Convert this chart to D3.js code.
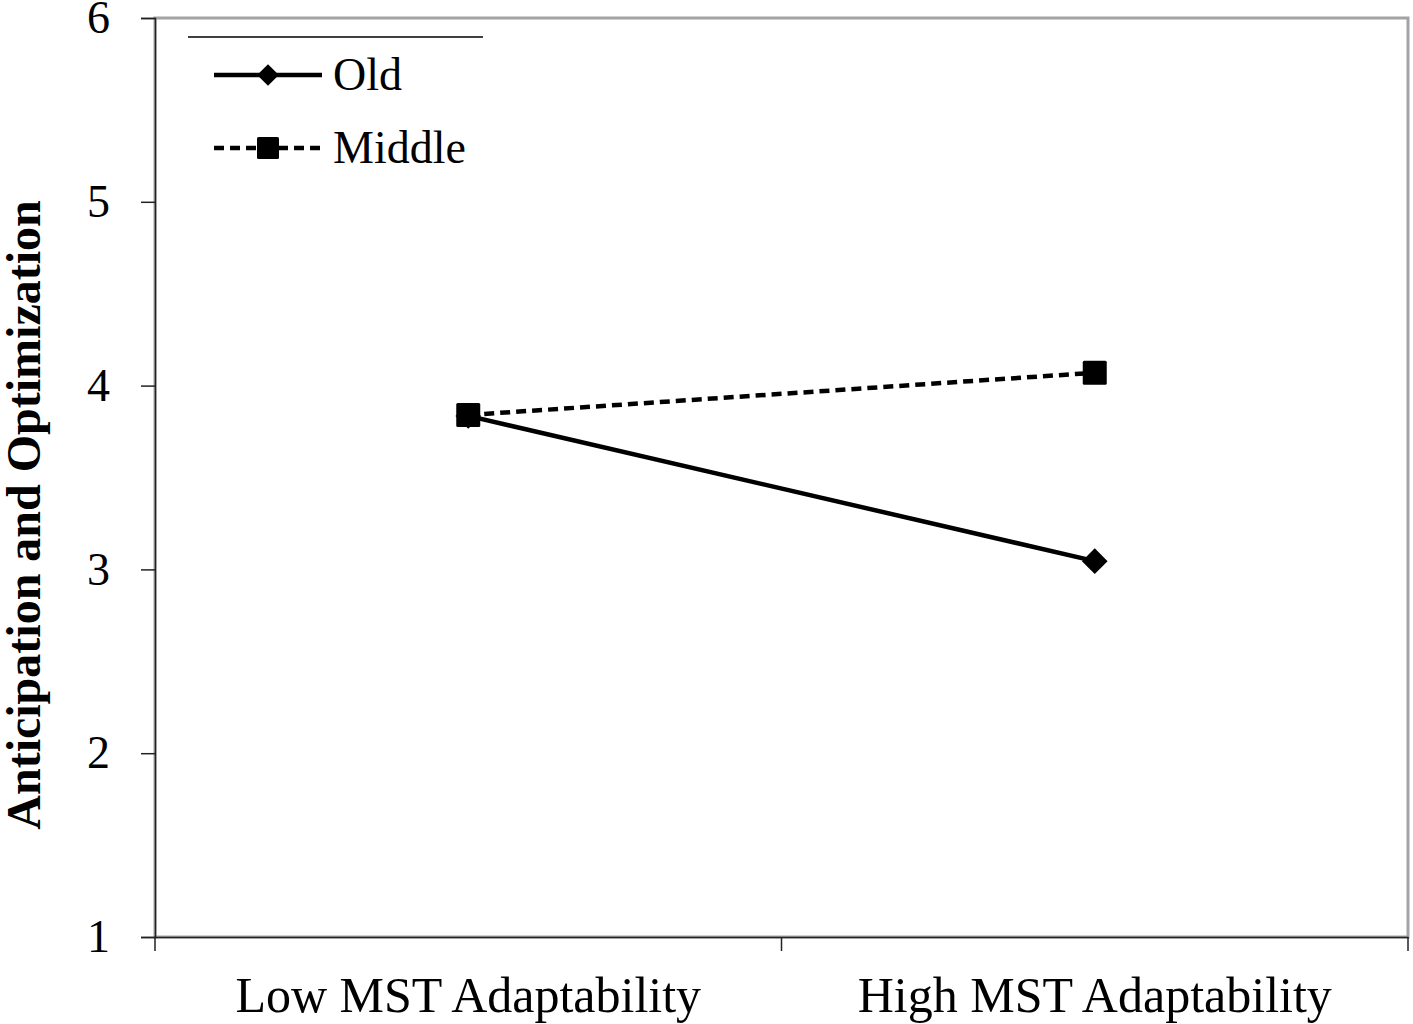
<!DOCTYPE html>
<html>
<head>
<meta charset="utf-8">
<script src="https://cdn.jsdelivr.net/npm/d3@7"></script>
<style>
  body { margin: 0; background: #fff; }
  text { font-family: "Liberation Serif", "Times New Roman", serif; fill: #000; }
</style>
</head>
<body>
<div id="chart"></div>
<script>
// values
var categories = ["Low MST Adaptability", "High MST Adaptability"];
var old_values = [3.835, 3.045];
var middle_values = [3.84, 4.07];
var y_ticks = [1, 2, 3, 4, 5, 6];
var series_names = ["Old", "Middle"];

var width = 1413, height = 1024;
var margin = {top: 18, right: 5, bottom: 87, left: 155};
var plot_w = width - margin.left - margin.right;
var plot_h = height - margin.top - margin.bottom;

var svg = d3.select("#chart").append("svg")
    .attr("width", width)
    .attr("height", height);

var g = svg.append("g")
    .attr("transform", "translate(" + margin.left + "," + margin.top + ")");

var x = d3.scaleBand().domain(categories).range([0, plot_w]);
var y = d3.scaleLinear().domain([1, 6]).range([plot_h, 0]);

// gray frame round the plot area
g.append("rect")
    .attr("x", 0).attr("y", 0)
    .attr("width", plot_w).attr("height", plot_h)
    .attr("fill", "none")
    .attr("stroke", "#a3a3a3")
    .attr("stroke-width", 3);

// y axis
var y_axis = g.append("g")
    .call(d3.axisLeft(y).tickValues(y_ticks).tickSize(14).tickPadding(31).tickFormat(d3.format("d")));
y_axis.select(".domain").attr("stroke", "#222").attr("stroke-width", 1.5);
y_axis.selectAll(".tick line").attr("stroke", "#222").attr("stroke-width", 1.5);
y_axis.selectAll("text")
    .style("font-family", "'Liberation Serif', serif")
    .style("font-size", "46px")
    .attr("fill", "#000");

// x axis, ticks on band edges
var x_axis = g.append("g")
    .attr("transform", "translate(0," + plot_h + ")")
    .call(d3.axisBottom(x).tickSize(0));
x_axis.select(".domain").attr("stroke", "#222").attr("stroke-width", 1.5);
x_axis.selectAll("text")
    .attr("y", 75)
    .attr("dy", 0)
    .style("font-family", "'Liberation Serif', serif")
    .style("font-size", "50px")
    .attr("fill", "#000");

var edges = categories.map(function(c) { return x(c); }).concat([plot_w]);
x_axis.selectAll(".edge").data(edges).enter().append("line")
    .attr("class", "edge")
    .attr("x1", function(d) { return d; })
    .attr("x2", function(d) { return d; })
    .attr("y1", 0).attr("y2", 14)
    .attr("stroke", "#222").attr("stroke-width", 1.5);

// y title
svg.append("text")
    .attr("transform", "translate(40," + 515 + ") rotate(-90)")
    .attr("text-anchor", "middle")
    .style("font-size", "48px")
    .style("font-weight", "bold")
    .text("Anticipation and Optimization");

// lines
var line = d3.line()
    .x(function(d, i) { return x(categories[i]) + x.bandwidth() / 2; })
    .y(function(d) { return y(d); });

g.append("path")
    .datum(old_values)
    .attr("d", line)
    .attr("fill", "none")
    .attr("stroke", "#000")
    .attr("stroke-width", 4.5);

g.append("path")
    .datum(middle_values)
    .attr("d", line)
    .attr("fill", "none")
    .attr("stroke", "#000")
    .attr("stroke-width", 4.5)
    .attr("stroke-dasharray", "10,6");

var diamond = d3.symbol().type(d3.symbolDiamond2).size(420);
var mark = 24;

g.selectAll(".old-pt").data(old_values).enter().append("path")
    .attr("class", "old-pt")
    .attr("transform", function(d, i) {
        return "translate(" + (x(categories[i]) + x.bandwidth() / 2) + "," + y(d) + ")";
    })
    .attr("d", diamond)
    .attr("fill", "#000");

g.selectAll(".mid-pt").data(middle_values).enter().append("rect")
    .attr("class", "mid-pt")
    .attr("x", function(d, i) { return x(categories[i]) + x.bandwidth() / 2 - mark / 2; })
    .attr("y", function(d) { return y(d) - mark / 2; })
    .attr("width", mark).attr("height", mark)
    .attr("rx", 1.5)
    .attr("fill", "#000");

// legend
var legend = svg.append("g");
legend.append("line")
    .attr("x1", 188).attr("x2", 483)
    .attr("y1", 37).attr("y2", 37)
    .attr("stroke", "#000").attr("stroke-width", 1.5);

var leg_y = [75, 148];
series_names.forEach(function(name, i) {
    var row = legend.append("g").attr("transform", "translate(0," + leg_y[i] + ")");
    row.append("line")
        .attr("x1", 214).attr("x2", 322)
        .attr("stroke", "#000").attr("stroke-width", 4.5)
        .attr("stroke-dasharray", i === 1 ? "10,6" : null);
    if (i === 0) {
        row.append("path")
            .attr("transform", "translate(268,0)")
            .attr("d", d3.symbol().type(d3.symbolDiamond2).size(300))
            .attr("fill", "#000");
    } else {
        row.append("rect")
            .attr("x", 268 - 11).attr("y", -11)
            .attr("width", 22).attr("height", 22)
            .attr("rx", 1.5)
            .attr("fill", "#000");
    }
    row.append("text")
        .attr("x", 333)
        .attr("y", 15)
        .style("font-size", "46px")
        .text(name);
});
</script>
</body>
</html>
